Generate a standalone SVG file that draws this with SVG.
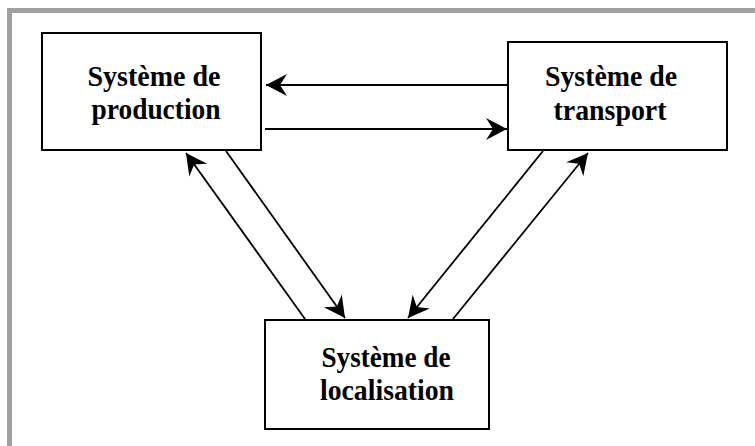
<svg xmlns="http://www.w3.org/2000/svg" width="755" height="446" viewBox="0 0 755 446">
<style>
.box{fill:#fff;stroke:#000;stroke-width:2}
.lbl{font-family:"Liberation Serif","Times New Roman",serif;font-weight:bold;font-size:30px;fill:#000;text-anchor:middle}
.con{stroke:#000;stroke-width:1.8;fill:none;marker-end:url(#ah)}
</style>
<defs>
<marker id="ah" markerUnits="userSpaceOnUse" viewBox="-22 -12 24 24" refX="0" refY="0" markerWidth="24" markerHeight="24" orient="auto">
<path d="M0,0 L-21,-11 L-14,0 L-21,11 Z" fill="#000"/>
</marker>
</defs>
<rect width="755" height="446" fill="#fff"/>
<g id="frame" fill="#a0a0a0">
<rect x="7" y="8" width="748" height="5"/>
<rect x="7" y="8" width="5" height="438"/>
</g>
<g id="production">
<rect class="box" x="42" y="33" width="219" height="117"/>
<text class="lbl" x="154" y="86" textLength="133" lengthAdjust="spacingAndGlyphs">Système de</text>
<text class="lbl" x="156" y="119" textLength="129" lengthAdjust="spacingAndGlyphs">production</text>
</g>
<g id="transport">
<rect class="box" x="508" y="42" width="219" height="108"/>
<text class="lbl" x="611" y="86" textLength="132" lengthAdjust="spacingAndGlyphs">Système de</text>
<text class="lbl" x="610" y="120" textLength="113" lengthAdjust="spacingAndGlyphs">transport</text>
</g>
<g id="localisation">
<rect class="box" x="265" y="320" width="224" height="109"/>
<text class="lbl" x="386" y="367" textLength="129" lengthAdjust="spacingAndGlyphs">Système de</text>
<text class="lbl" x="387" y="400" textLength="134" lengthAdjust="spacingAndGlyphs">localisation</text>
</g>
<g id="connectors">
<line class="con" x1="508" y1="85" x2="266" y2="85"/>
<line class="con" x1="265" y1="129" x2="507" y2="129"/>
<line class="con" x1="305" y1="319" x2="186" y2="153"/>
<line class="con" x1="226" y1="151" x2="345" y2="318"/>
<line class="con" x1="543" y1="151" x2="408" y2="318"/>
<line class="con" x1="453" y1="319" x2="588" y2="153"/>
</g>
</svg>
